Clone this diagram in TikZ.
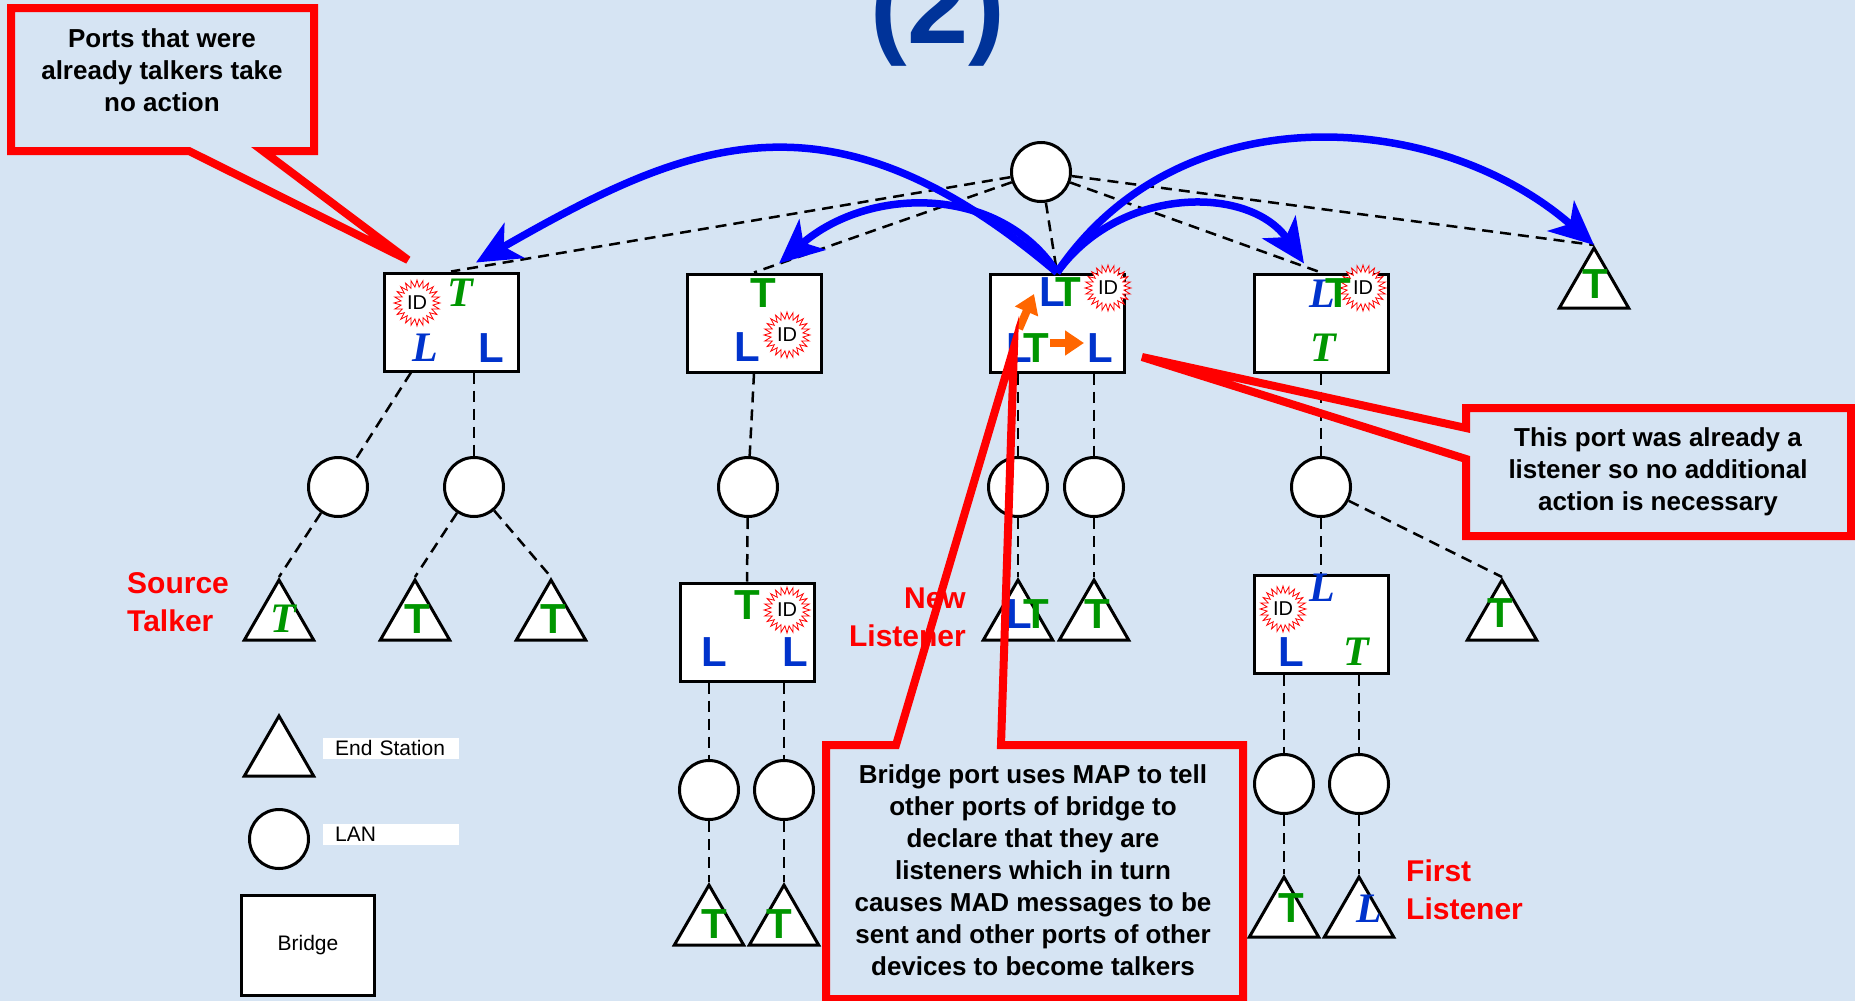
\documentclass[tikz,border=0pt]{standalone}
\usepackage{fontspec}
\setmainfont{Liberation Sans}
\newfontfamily\tms{Liberation Serif}
\usetikzlibrary{arrows.meta}
\usetikzlibrary{positioning}
\usetikzlibrary{shapes.geometric}
\usetikzlibrary{shapes.symbols}

\definecolor{sfondo}{RGB}{214,228,243}
\definecolor{verde}{RGB}{0,150,0}
\definecolor{blu}{RGB}{0,51,204}
\definecolor{freccia}{RGB}{0,0,255}
\definecolor{arancio}{RGB}{255,102,0}
\definecolor{titolo}{RGB}{0,51,153}

\newcommand{\portT}{\textcolor{verde}{\bfseries T}}
\newcommand{\portTi}{\textcolor{verde}{\tms\bfseries\itshape T}}
\newcommand{\portL}{\textcolor{blu}{\bfseries L}}
\newcommand{\portLi}{\textcolor{blu}{\tms\bfseries\itshape L}}

\tikzset{
  bridge/.style={draw, line width=3pt, fill=white, minimum width=134pt, minimum height=98pt, inner sep=0pt},
  lan/.style={circle, draw, line width=3pt, fill=white, minimum size=59pt, inner sep=0pt},
  station/.style={regular polygon, regular polygon sides=3, draw, line width=3pt, fill=white, minimum size=80pt, inner sep=0pt},
  port/.style={inner sep=0pt, font=\fontsize{42}{42}\selectfont},
  idstar/.style={starburst, starburst points=24, starburst point height=7pt, random starburst=0, draw=red, fill=white, line width=0.8pt, minimum size=46pt, inner sep=0pt, font=\fontsize{20}{20}\selectfont},
  dashlink/.style={line width=2.5pt, dash pattern=on 11pt off 7pt},
  msg/.style={freccia, line width=7.5pt, -{Stealth[length=44pt, width=40pt, inset=12pt]}},
  mapfreccia/.style={arancio, line width=8pt, -{Triangle[length=19pt, width=24pt]}},
  fumetto/.style={draw=red, line width=8pt, line join=miter},
  nota/.style={align=center, inner sep=0pt, font=\bfseries\fontsize{26}{32}\selectfont},
  etichetta/.style={red, inner sep=0pt, font=\bfseries\fontsize{30}{38}\selectfont},
  legenda/.style={fill=white, inner xsep=12pt, inner ysep=0pt, text width=112pt, minimum height=21pt, align=left, font=\fontsize{21}{21}\selectfont},
}

\begin{document}
\begin{tikzpicture}[x=1pt, y=-1pt]

\useasboundingbox (0,0) rectangle (1855,1001);
\fill[sfondo] (0,0) rectangle (1855,1001); % sfondo

% titolo
\node[titolo, anchor=base, inner sep=0pt, font=\bfseries\fontsize{110}{110}\selectfont] (tit) at (938,43) {(2)};

% bridge
\node[bridge] (B1) at (451,322) {};
\node[bridge] (B2) at (754,323) {};
\node[bridge] (B3) at (1057,323) {};
\node[bridge] (B4) at (1321,323) {};
\node[bridge] (B5) at (747,632) {};
\node[bridge] (B6) at (1321,624) {};

% LAN
\node[lan] (lanTop) at (1041,172) {};
\node[lan] (lan1a) at (338,487) {};
\node[lan] (lan1b) at (474,487) {};
\node[lan] (lan2) at (748,487) {};
\node[lan] (lan3a) at (1018,487) {};
\node[lan] (lan3b) at (1094,487) {};
\node[lan] (lan4) at (1321,487) {};
\node[lan] (lan5a) at (709,790) {};
\node[lan] (lan5b) at (784,790) {};
\node[lan] (lan6a) at (1284,784) {};
\node[lan] (lan6b) at (1359,784) {};

% end station
\node[station] (es1) at (279,620) {};
\node[station] (es2) at (415,620) {};
\node[station] (es3) at (551,620) {};
\node[station] (es3a) at (1018,620) {};
\node[station] (es3b) at (1094,620) {};
\node[station] (es4) at (1502,620) {};
\node[station] (esTop) at (1594,288) {};
\node[station] (es5a) at (709,925) {};
\node[station] (es5b) at (784,925) {};
\node[station] (es6a) at (1284,917) {};
\node[station] (es6b) at (1359,917) {};

% collegamenti tratteggiati
\draw[dashlink] (lanTop) -- (B1.north);
\draw[dashlink] (lanTop) -- (B2.north);
\draw[dashlink] (lanTop) -- (B3.north);
\draw[dashlink] (lanTop) -- (B4.north);
\draw[dashlink] (lanTop) -- (esTop.corner 1);

\draw[dashlink] ([xshift=-40pt]B1.south) -- (lan1a);
\draw[dashlink] (B1.south -| lan1b) -- (lan1b);
\draw[dashlink] (lan1a) -- (es1.corner 1);
\draw[dashlink] (lan1b) -- (es2.corner 1);
\draw[dashlink] (lan1b) -- (es3.corner 1);

\draw[dashlink] (B2.south) -- (lan2);
\draw[dashlink] (lan2) -- (B5.north);
\draw[dashlink] (B5.south -| lan5a) -- (lan5a);
\draw[dashlink] (B5.south -| lan5b) -- (lan5b);
\draw[dashlink] (lan5a) -- (es5a.corner 1);
\draw[dashlink] (lan5b) -- (es5b.corner 1);

\draw[dashlink] (B3.south -| lan3a) -- (lan3a);
\draw[dashlink] (B3.south -| lan3b) -- (lan3b);
\draw[dashlink] (lan3a) -- (es3a.corner 1);
\draw[dashlink] (lan3b) -- (es3b.corner 1);

\draw[dashlink] (B4.south) -- (lan4);
\draw[dashlink] (lan4) -- (B6.north);
\draw[dashlink] (lan4) -- (es4.corner 1);
\draw[dashlink] (B6.south -| lan6a) -- (lan6a);
\draw[dashlink] (B6.south -| lan6b) -- (lan6b);
\draw[dashlink] (lan6a) -- (es6a.corner 1);
\draw[dashlink] (lan6b) -- (es6b.corner 1);

% porte dei bridge
\node[idstar] (id1) at (417,303) {ID};
\node[port] (b1t) at (460,293) {\portTi};
\node[port] (b1l) at (425,348) {\portLi};
\node[port] (b1r) at (491,348) {\portL};

\node[idstar] (id2) at (787,335) {ID};
\node[port] (b2t) at (763,293) {\portT};
\node[port] (b2l) at (747,347) {\portL};

\node[idstar] (id3) at (1108,288) {ID};
\node[port] (b3t) at (1060,292) {\portL\kern-10pt\portT};
\node[port] (b3l) at (1028,348) {\portL\kern-9pt\portT};
\node[port] (b3r) at (1100,348) {\portL};
\draw[mapfreccia] (1019,329) -- (1034,294); % verso l'alto
\draw[mapfreccia] (1050,343) -- (1084,343); % verso destra

\node[idstar] (id4) at (1363,288) {ID};
\node[port] (b4t) at (1330,293) {\portLi\kern-10pt\portT};
\node[port] (b4b) at (1323,348) {\portTi};

\node[idstar] (id5) at (787,610) {ID};
\node[port] (b5t) at (747,605) {\portT};
\node[port] (b5l) at (714,652) {\portL};
\node[port] (b5r) at (795,652) {\portL};

\node[idstar] (id6) at (1283,609) {ID};
\node[port] (b6t) at (1322,588) {\portLi};
\node[port] (b6l) at (1291,652) {\portL};
\node[port] (b6r) at (1356,652) {\portTi};

% porte delle end station
\node[port] (s1) at (283,619) {\portTi};
\node[port] (s2) at (417,619) {\portT};
\node[port] (s3) at (553,619) {\portT};
\node[port] (s3a) at (1028,614) {\portL\kern-9pt\portT};
\node[port] (s3b) at (1097,614) {\portT};
\node[port] (s4) at (1500,613) {\portT};
\node[port] (sTop) at (1595,284) {\portT};
\node[port] (s5a) at (714,924) {\portT};
\node[port] (s5b) at (779,924) {\portT};
\node[port] (s6a) at (1291,908) {\portT};
\node[port] (s6b) at (1369,909) {\portLi};

% frecce blu (MAD)
\draw[msg] (B3.north) .. controls (830,80) and (690,140) .. ([xshift=25pt,yshift=9pt]B1.north);
\draw[msg] (B3.north) .. controls (1000,185) and (870,185) .. ([xshift=25pt,yshift=9pt]B2.north);
\draw[msg] (B3.north) .. controls (1120,185) and (1250,185) .. ([xshift=-17pt,yshift=9pt]B4.north);
\draw[msg] (B3.north) .. controls (1180,90) and (1440,110) .. (esTop.corner 1);

% etichette rosse
\node[etichetta, align=left, anchor=west] (src) at (127,602) {Source\\Talker};
\node[etichetta, align=right, anchor=east] (nuovo) at (966,617) {New\\Listener};
\node[etichetta, align=left, anchor=west] (primo) at (1406,890) {First\\Listener};

% fumetti
\node[nota] (c1) at (162,70) {Ports that were\\already talkers take\\no action};
\draw[fumetto] (11,8) -- (314,8) -- (314,151) -- (263,151) -- (408,260) -- (189,151) -- (11,151) -- cycle;

\node[nota] (c2) at (1658,472) {This port was already a\\listener so no additional\\action is necessary};
\draw[fumetto] (1466,408) -- (1851,408) -- (1851,536) -- (1466,536) -- (1466,459) -- (1142,357) -- (1466,428) -- cycle;

\node[nota] (c3) at (1033,870) {Bridge port uses MAP to tell\\other ports of bridge to\\declare that they are\\listeners which in turn\\causes MAD messages to be\\sent and other ports of other\\devices to become talkers};
\draw[fumetto] (826,745) -- (896,745) -- (1014,347) -- (1001,745) -- (1243,745) -- (1243,999) -- (826,999) -- cycle;

% legenda
\node[station] (esL) at (279,756) {};
\node[legenda, anchor=west] (legES) at (323,748) {End Station};
\node[lan] (lanL) at (279,839) {};
\node[legenda, anchor=west] (legLAN) at (323,834) {LAN};
\node[bridge, minimum width=133pt, minimum height=100pt, font=\fontsize{21}{21}\selectfont] (brL) at (308,945) {Bridge};

\end{tikzpicture}
\end{document}
